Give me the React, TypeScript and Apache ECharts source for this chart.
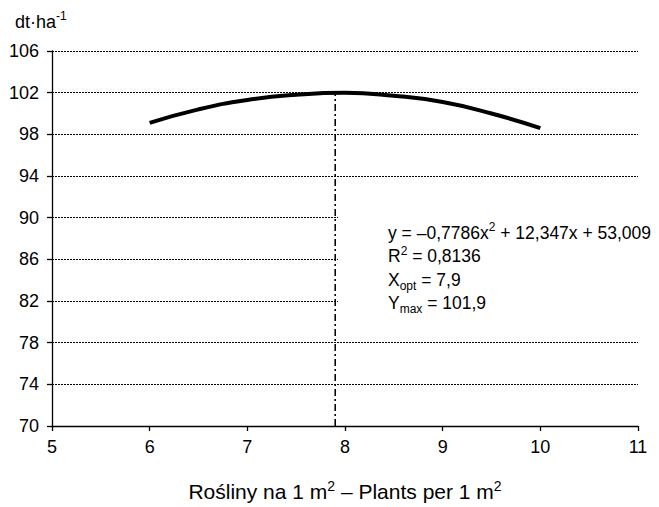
import React, { useEffect, useRef } from "react";
import * as echarts from "echarts";

const plantsX = [6, 6.5, 7, 7.5, 8, 8.5, 9, 9.5, 10];
const yieldY = [99.1, 100.4, 101.3, 101.8, 102.0, 101.7, 101.1, 100.0, 98.6];
const xOpt = 7.9;
const yMax = 101.9;
const yAxisMin = 70;
const yAxisMax = 106;
const yInterval = 4;
const xAxisMin = 5;
const xAxisMax = 11;
const xInterval = 1;

const FONT = "'Liberation Sans', Arial, Helvetica, sans-serif";

export default function App() {
  const ref = useRef<HTMLDivElement>(null);
  useEffect(() => {
    if (!ref.current) return;
    const chart = echarts.init(ref.current, undefined, { renderer: "svg" });
    const base = { fontFamily: FONT, fontSize: 17.5, color: "#000", lineHeight: 23.5 };
    const sup = { fontFamily: FONT, fontSize: 12, color: "#000", verticalAlign: "top", lineHeight: 14 };
    const sub = { fontFamily: FONT, fontSize: 12, color: "#000", verticalAlign: "bottom", lineHeight: 12 };
    const unitB = { fontFamily: FONT, fontSize: 18, color: "#000", lineHeight: 23 };
    const titleB = { fontFamily: FONT, fontSize: 21, color: "#000", lineHeight: 25 };
    const titleS = { fontFamily: FONT, fontSize: 14, color: "#000", verticalAlign: "top", lineHeight: 15 };
    chart.setOption({
      animation: false,
      backgroundColor: "#fff",
      textStyle: { fontFamily: FONT },
      grid: { left: 52, top: 51, right: 21, bottom: 81, containLabel: false },
      xAxis: {
        type: "value",
        min: xAxisMin,
        max: xAxisMax,
        interval: xInterval,
        axisLine: { show: true, lineStyle: { color: "#000", width: 1.3 } },
        axisTick: { show: true, length: 5, lineStyle: { color: "#000", width: 1.3 } },
        axisLabel: { color: "#000", fontSize: 18, fontFamily: FONT, margin: 12 },
        splitLine: { show: false },
        name: "{b|Rośliny na 1 m}{s|2}{b| – Plants per 1 m}{s|2}",
        nameLocation: "middle",
        nameGap: 53,
        nameTextStyle: { rich: { b: titleB, s: titleS } },
      },
      yAxis: {
        type: "value",
        min: yAxisMin,
        max: yAxisMax,
        interval: yInterval,
        axisLine: { show: true, lineStyle: { color: "#000", width: 1.3 } },
        axisTick: { show: true, length: 5, lineStyle: { color: "#000", width: 1.3 } },
        axisLabel: { color: "#000", fontSize: 18, fontFamily: FONT, margin: 13 },
        splitLine: { show: true, lineStyle: { color: "#000", width: 1, type: [2, 1] } },
      },
      graphic: [
        {
          type: "text",
          left: 15,
          top: 10,
          style: {
            text: "{b|dt·ha}{s|-1}",
            rich: { b: unitB, s: sup },
          },
        },
        {
          type: "rect",
          left: 338,
          top: 205,
          z: 1,
          shape: { width: 321, height: 112 },
          style: { fill: "#fff" },
        },
        {
          type: "text",
          left: 388,
          top: 221,
          z: 5,
          style: {
            text:
              "{b|y = –0,7786x}{s|2}{b| + 12,347x + 53,009}\n" +
              "{b|R}{s|2}{b| = 0,8136}\n" +
              "{b|X}{d|opt}{b| = 7,9}\n" +
              "{b|Y}{d|max}{b| = 101,9}",
            rich: { b: base, s: sup, d: sub },
          },
        },
      ],
      series: [
        {
          type: "line",
          data: plantsX.map((x, i) => [x, yieldY[i]]),
          smooth: true,
          symbol: "none",
          lineStyle: { color: "#000", width: 4 },
          z: 3,
        },
        {
          type: "line",
          data: [
            [xOpt, yAxisMin],
            [xOpt, yMax],
          ],
          symbol: "none",
          lineStyle: { color: "#000", width: 1.6, type: [7, 3, 2, 3] },
          z: 2,
        },
      ],
    });
    return () => chart.dispose();
  }, []);
  return (
    <div
      ref={ref}
      style={{ position: "absolute", left: 0, top: 0, width: 659, height: 507 }}
    />
  );
}
